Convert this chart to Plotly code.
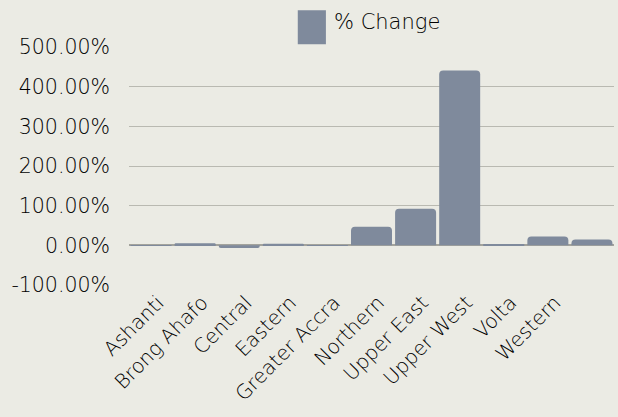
import plotly.graph_objects as go

categories = ["Ashanti", "Brong Ahafo", "Central", "Eastern", "Greater Accra",
              "Northern", "Upper East", "Upper West", "Volta", "Western", " "]
pct_change = [0.3, 5, -7, 4, 0.5, 47, 92, 441, 1, 22, 15]
series_name = "% Change"
tick_vals = [-100, 0, 100, 200, 300, 400, 500]
tick_text = [f"{v:.2f}%" for v in tick_vals]

BAR = "#7f8a9c"
BG = "#ebebe4"
FONT = "DejaVu Sans"
TXT = "#000000"

fig = go.Figure()
fig.add_trace(go.Bar(
    x=categories, y=pct_change, name=series_name,
    marker=dict(color=BAR, cornerradius=4, line=dict(width=0)),
    showlegend=False,
))

fig.update_layout(
    width=618, height=417,
    paper_bgcolor=BG, plot_bgcolor=BG,
    margin=dict(l=129, r=4, t=47, b=132),
    bargap=0.07,
    font=dict(family=FONT, size=20, color=TXT, weight=300),
    xaxis=dict(type="category", tickangle=-45, showgrid=False, ticks="",
               showline=False, automargin=False,
               ticklabelstandoff=1, ticklabelshift=7,
               tickfont=dict(size=20, color=TXT, weight=300)),
    yaxis=dict(range=[-100, 500], tickvals=tick_vals, ticktext=tick_text,
               showgrid=True, gridcolor="#b9b9b1", gridwidth=1,
               zeroline=True, zerolinecolor="#a3a39c", zerolinewidth=2,
               ticks="", ticklabelstandoff=18, automargin=False,
               tickfont=dict(size=20.5, color=TXT, weight=300)),
    shapes=[dict(type="rect", xref="paper", yref="paper",
                 x0=0.348, x1=0.406, y0=1.012, y1=1.154,
                 fillcolor=BAR, line=dict(width=0))],
    annotations=[dict(text=series_name, xref="paper", yref="paper",
                      x=0.418, y=1.106, xanchor="left", yanchor="middle",
                      showarrow=False, font=dict(size=21, color=TXT, weight=300))],
)

fig.write_html("out.html", config={"displayModeBar": False},
               post_script="document.body.style.margin='0';")
